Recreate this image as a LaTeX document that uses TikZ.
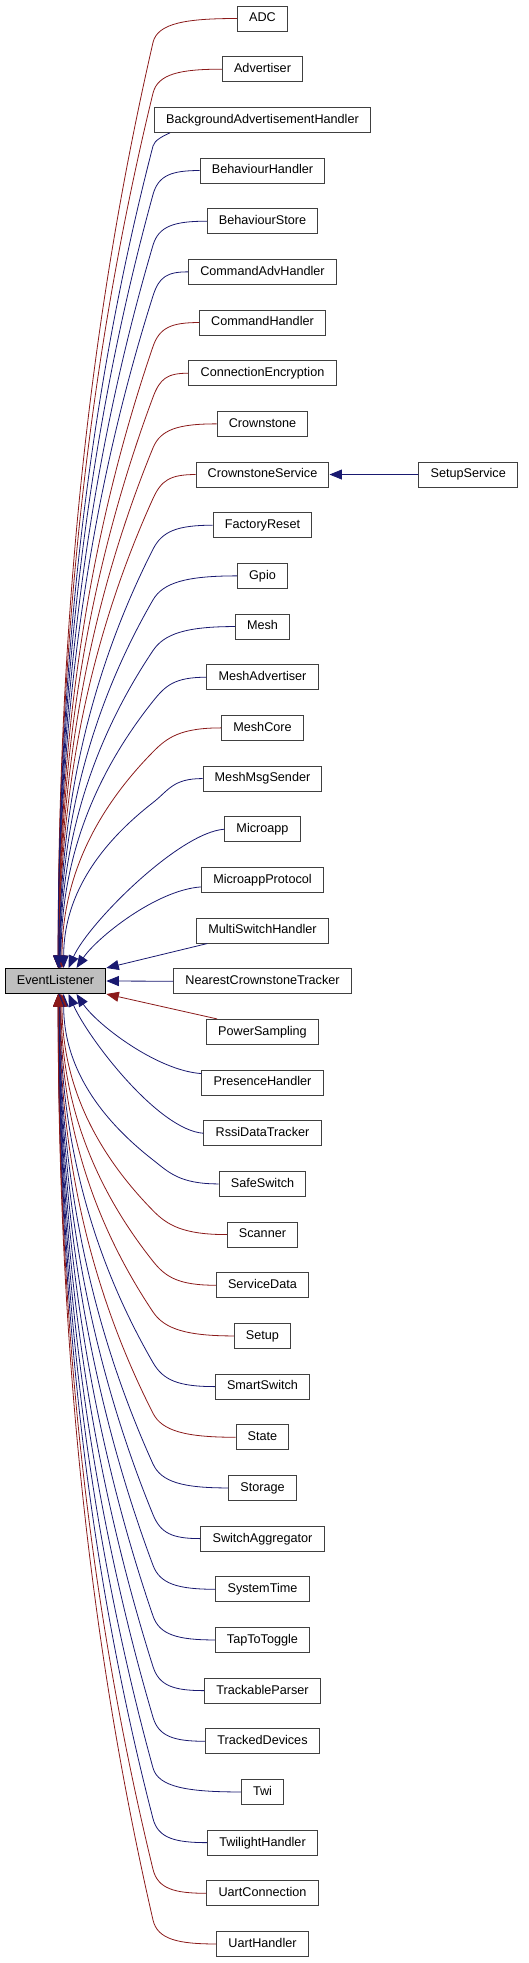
\documentclass[tikz,border=0pt]{standalone}
\usepackage{fontspec}
\setmainfont{Liberation Sans}
\usetikzlibrary{calc,arrows.meta}
\definecolor{eblue}{HTML}{191970}
\definecolor{ered}{HTML}{8B1A1A}
\definecolor{bordergray}{HTML}{404040}
\definecolor{rootfill}{HTML}{BFBFBF}
\begin{document}
\begin{tikzpicture}[x=1pt,y=-1pt,
  cls/.style={draw=bordergray,fill=white,line width=1pt,inner xsep=11.65pt,inner ysep=0pt,
    minimum height=25pt,text height=9.6pt,text depth=2.84pt,font=\fontsize{12.65}{15}\selectfont},
  root/.style={cls,draw=black,fill=rootfill},
  inh/.style={line width=0.8pt,-{Triangle[length=12.5pt,width=10pt]}},
  pub/.style={inh,draw=eblue},
  priv/.style={inh,draw=ered}]
\useasboundingbox (0,0) rectangle (529,1963);
\node[root] (el) at (55.5,981) {EventListener};
\coordinate (tgt1) at (el.north);
\coordinate (tgt-1) at (el.south);
\foreach \i/\t in {0/ADC,1/Advertiser,2/BackgroundAdvertisementHandler,3/BehaviourHandler,
  4/BehaviourStore,5/CommandAdvHandler,6/CommandHandler,7/ConnectionEncryption,8/Crownstone,
  9/CrownstoneService,10/FactoryReset,11/Gpio,12/Mesh,13/MeshAdvertiser,14/MeshCore,
  15/MeshMsgSender,16/Microapp,17/MicroappProtocol,18/MultiSwitchHandler,
  19/NearestCrownstoneTracker,20/PowerSampling,21/PresenceHandler,22/RssiDataTracker,
  23/SafeSwitch,24/Scanner,25/ServiceData,26/Setup,27/SmartSwitch,28/State,29/Storage,
  30/SwitchAggregator,31/SystemTime,32/TapToToggle,33/TrackableParser,34/TrackedDevices,
  35/Twi,36/TwilightHandler,37/UartConnection,38/UartHandler}{
  \node[cls] (n\i) at (262.5,{18.5+50.67*\i}) {\t};
}
\node[cls] (ss) at (468.2,474.5) {SetupService};
\draw[pub] (ss.west) -- (n9.east);
% generic curved edges (far children)
\foreach \i/\c in {0/priv,1/priv,3/pub,4/pub,5/pub,6/priv,7/priv,8/priv,9/priv,10/pub,
  11/pub,12/pub,13/pub,14/priv,15/pub,23/pub,24/priv,
  25/priv,26/priv,27/pub,28/priv,29/pub,30/pub,31/pub,32/pub,33/pub,34/pub,35/pub,
  36/pub,37/priv,38/priv}{
  \pgfmathsetmacro\yy{18.5+50.67*\i}
  \pgfmathsetmacro\d{abs(\i-19)}
  \pgfmathtruncatemacro\s{ifthenelse(\i<19,1,-1)}
  \pgfmathsetmacro\tx{1.5+20/(\d-1)}
  \pgfmathsetmacro\ty{ifthenelse(\i<19,968.5,993.5)}
  \pgfmathsetmacro\by{\yy+24*\s}
  \pgfmathsetmacro\H{abs(\ty-\by)}
  \pgfmathsetmacro\cay{\by+\s*\H/3}
  \pgfmathsetmacro\cby{-\s*\H/3}
  \draw[\c] (n\i.west) .. controls ($(n\i.west)!0.6!(153,\yy)$) and ($(153,\by)!-20pt!(82,\cay)$) .. (153,\by)
    .. controls (82,\cay) and ($(tgt\s)+(\tx,\cby)$) .. ($(tgt\s)+(\tx,0)$);
}
% nearer children: single smooth curve
\foreach \i/\c/\sh/\tx/\k in {16/pub/0/13/45,17/pub/7/21/30,21/pub/-9/21/30,22/pub/0/13/45}{
  \pgfmathtruncatemacro\s{ifthenelse(\i<19,1,-1)}
  \draw[\c] ($(n\i.west)+(0,\sh)$) .. controls ($(n\i.west)+(-45,\sh+3*\s)$) and ($(tgt\s)+(\tx+20,-\k*\s)$) .. ($(tgt\s)+(\tx,0)$);
}
% BackgroundAdvertisementHandler leaves from its bottom
\draw[pub] ([xshift=-92.5pt]n2.south) .. controls (163,136) and ($(153,146)!-6pt!(82,420)$) .. (153,146)
  .. controls (82,420) and ($(tgt1)+(2.75,-274)$) .. ($(tgt1)+(2.75,0)$);
% nearest children
\draw[pub] ([xshift=11pt]n18.south west) -- (el.north east);
\draw[pub] (n19.west) -- (el.east);
\draw[priv] ([xshift=11pt]n20.north west) -- (el.south east);
\end{tikzpicture}
\end{document}
